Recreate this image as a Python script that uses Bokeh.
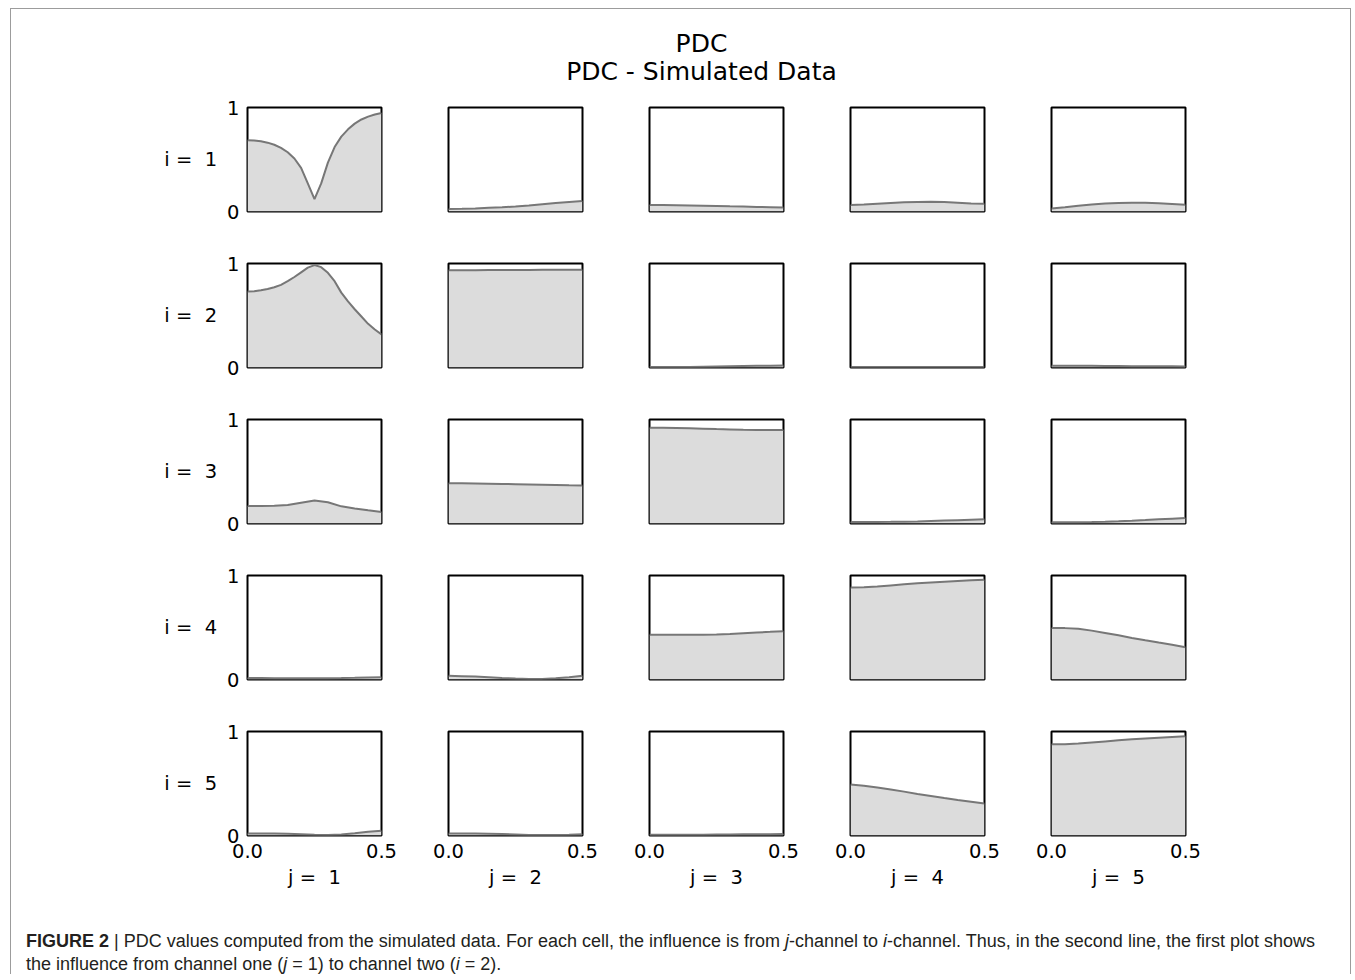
from bokeh.plotting import figure
from bokeh.layouts import column, row
from bokeh.models import Range1d, FixedTicker, Div
from bokeh.core.properties import value
from bokeh.embed import file_html
from bokeh.resources import INLINE

# ---------------- data ----------------
freq = [0.0, 0.05, 0.1, 0.15, 0.2, 0.25, 0.3, 0.35, 0.4, 0.45, 0.5]
freq_fine = [0.0, 0.025, 0.05, 0.075, 0.1, 0.125, 0.15, 0.175, 0.2, 0.225, 0.25,
             0.275, 0.3, 0.325, 0.35, 0.375, 0.4, 0.425, 0.45, 0.475, 0.5]

title_lines = ["PDC", "PDC - Simulated Data"]
row_labels = ["i = \u00a01", "i = \u00a02", "i = \u00a03", "i = \u00a04", "i = \u00a05"]
col_labels = ["j = \u00a01", "j = \u00a02", "j = \u00a03", "j = \u00a04", "j = \u00a05"]
y_ticks = [0, 1]
y_tick_labels = {0: "0", 1: "1"}
x_ticks = [0, 0.5]
x_tick_labels = {0: "0.0", 0.5: "0.5"}

# PDC from channel j (columns) to channel i (rows)
pdc_i1 = [
    [0.686, 0.683, 0.675, 0.662, 0.642, 0.612, 0.57, 0.51, 0.42, 0.27, 0.12,
     0.27, 0.47, 0.62, 0.72, 0.79, 0.845, 0.885, 0.912, 0.933, 0.948],
    [0.025, 0.027, 0.03, 0.035, 0.04, 0.048, 0.058, 0.07, 0.082, 0.092, 0.1],
    [0.062, 0.062, 0.06, 0.058, 0.056, 0.054, 0.05, 0.047, 0.044, 0.041, 0.038],
    [0.062, 0.068, 0.075, 0.082, 0.088, 0.092, 0.093, 0.091, 0.085, 0.078, 0.074],
    [0.03, 0.04, 0.055, 0.068, 0.077, 0.082, 0.084, 0.083, 0.079, 0.072, 0.064],
]
pdc_i2 = [
    [0.73, 0.733, 0.742, 0.755, 0.772, 0.795, 0.83, 0.87, 0.915, 0.96, 0.985,
     0.965, 0.91, 0.83, 0.72, 0.635, 0.56, 0.49, 0.42, 0.365, 0.318],
    [0.935, 0.936, 0.936, 0.937, 0.937, 0.938, 0.938, 0.939, 0.939, 0.94, 0.94],
    [0.005, 0.005, 0.005, 0.006, 0.008, 0.01, 0.012, 0.014, 0.016, 0.018, 0.02],
    [0.002, 0.002, 0.002, 0.002, 0.002, 0.002, 0.002, 0.002, 0.002, 0.002, 0.002],
    [0.018, 0.018, 0.017, 0.016, 0.015, 0.014, 0.013, 0.012, 0.012, 0.011, 0.01],
]
pdc_i3 = [
    [0.168, 0.168, 0.17, 0.178, 0.2, 0.222, 0.205, 0.165, 0.145, 0.127, 0.11],
    [0.387, 0.386, 0.384, 0.382, 0.38, 0.378, 0.376, 0.373, 0.37, 0.367, 0.365],
    [0.92, 0.92, 0.918, 0.915, 0.912, 0.908, 0.905, 0.902, 0.9, 0.899, 0.898],
    [0.015, 0.015, 0.015, 0.016, 0.018, 0.02, 0.024, 0.028, 0.032, 0.036, 0.04],
    [0.012, 0.012, 0.013, 0.015, 0.018, 0.022, 0.027, 0.033, 0.04, 0.046, 0.052],
]
pdc_i4 = [
    [0.015, 0.014, 0.013, 0.012, 0.012, 0.012, 0.013, 0.014, 0.016, 0.019, 0.022],
    [0.035, 0.032, 0.028, 0.022, 0.015, 0.009, 0.005, 0.006, 0.012, 0.022, 0.035],
    [0.43, 0.43, 0.43, 0.43, 0.431, 0.433, 0.438, 0.445, 0.452, 0.458, 0.465],
    [0.885, 0.888, 0.895, 0.905, 0.915, 0.925, 0.933, 0.94, 0.947, 0.954, 0.96],
    [0.495, 0.494, 0.487, 0.47, 0.448, 0.425, 0.4, 0.377, 0.355, 0.335, 0.31],
]
pdc_i5 = [
    [0.02, 0.02, 0.019, 0.017, 0.013, 0.008, 0.005, 0.01, 0.022, 0.035, 0.045],
    [0.02, 0.02, 0.019, 0.017, 0.014, 0.01, 0.006, 0.004, 0.005, 0.008, 0.012],
    [0.008, 0.008, 0.008, 0.008, 0.008, 0.009, 0.01, 0.011, 0.012, 0.013, 0.014],
    [0.49, 0.478, 0.462, 0.443, 0.422, 0.4, 0.38, 0.36, 0.342, 0.325, 0.307],
    [0.877, 0.878, 0.885, 0.895, 0.905, 0.915, 0.925, 0.933, 0.941, 0.948, 0.955],
]
pdc_rows = [pdc_i1, pdc_i2, pdc_i3, pdc_i4, pdc_i5]

# ---------------- style ----------------
FONT = "DejaVu Sans"
PANEL_W, PANEL_H = 134, 104
FIRST_LEFT, LEFT, RIGHT = 236, 47, 20
FIRST_TOP, TOP, BOTTOM, LAST_BOTTOM = 12, 26, 26, 62
FILL = "#dcdcdc"
LINE = "#777777"
CONTENT_W = 1341
HDR_H, CAP_H = 86, 78


def make_panel(i, j, vals):
    first_col = j == 0
    last_row = i == 4
    left = FIRST_LEFT if first_col else LEFT
    top = FIRST_TOP if i == 0 else TOP
    bottom = LAST_BOTTOM if last_row else BOTTOM
    p = figure(width=left + PANEL_W + RIGHT, height=top + PANEL_H + bottom,
               x_range=Range1d(0, 0.5), y_range=Range1d(0, 1),
               output_backend="svg", toolbar_location=None,
               x_axis_location="below" if last_row else None,
               y_axis_location="left" if first_col else None,
               min_border_left=left, min_border_right=RIGHT,
               min_border_top=top, min_border_bottom=bottom)
    p.grid.visible = False
    p.outline_line_color = "black"
    p.outline_line_width = 2
    p.outline_line_alpha = 1.0
    p.background_fill_color = "white"
    p.border_fill_color = "white"
    xs = freq_fine if len(vals) == len(freq_fine) else freq
    p.varea(x=xs, y1=[0] * len(xs), y2=vals, fill_color=FILL)
    p.line(x=xs, y=vals, line_color=LINE, line_width=2)
    axes = []
    if first_col:
        ax = p.yaxis[0]
        ax.ticker = FixedTicker(ticks=y_ticks)
        ax.major_label_overrides = y_tick_labels
        ax.axis_label = row_labels[i]
        ax.axis_label_orientation = "horizontal"
        ax.major_label_standoff = 8
        ax.axis_label_standoff = 7
        axes.append(ax)
    if last_row:
        ax = p.xaxis[0]
        ax.ticker = FixedTicker(ticks=x_ticks)
        ax.major_label_overrides = x_tick_labels
        ax.axis_label = col_labels[j]
        ax.major_label_standoff = 8
        ax.axis_label_standoff = 5
        axes.append(ax)
    for ax in axes:
        ax.axis_line_color = None
        ax.major_tick_line_color = None
        ax.minor_tick_line_color = None
        ax.major_tick_in = 0
        ax.major_tick_out = 0
        ax.major_label_text_font = FONT
        ax.major_label_text_font_size = "19.5px"
        ax.major_label_text_color = "black"
        ax.axis_label_text_font = FONT
        ax.axis_label_text_font_size = "19.5px"
        ax.axis_label_text_font_style = "normal"
        ax.axis_label_text_color = "black"
    return p


rows = []
for i, pdc_row in enumerate(pdc_rows):
    rows.append(row([make_panel(i, j, vals) for j, vals in enumerate(pdc_row)], spacing=0))

# header with the titles
hdr = figure(width=CONTENT_W, height=HDR_H, x_range=Range1d(0, CONTENT_W), y_range=Range1d(HDR_H, 0),
             output_backend="svg", toolbar_location=None,
             x_axis_location=None, y_axis_location=None, min_border=0)
hdr.grid.visible = False
hdr.outline_line_color = None
hdr.text(x=[691, 691], y=[34, 62], text=title_lines, text_font=value(FONT),
         text_font_size="25px", text_align="center", text_baseline="middle",
         text_color="black")

caption_html = (
    '<div style="font-family: \'Liberation Sans\', Arial, sans-serif; font-size: 18px; '
    'line-height: 23px; color: #231f20; white-space: nowrap; padding: 28px 0 0 10px;">'
    '<b>FIGURE 2</b> | PDC values computed from the simulated data. For each cell, the influence '
    'is from <i>j</i>-channel to <i>i</i>-channel. Thus, in the second line, the first plot shows<br>'
    'the influence from channel one (<i>j</i>&nbsp;=&nbsp;1) to channel two (<i>i</i>&nbsp;=&nbsp;2).'
    '</div>'
)
caption = Div(text=caption_html, width=CONTENT_W, height=CAP_H)

grid = column(rows, spacing=0)
total_h = HDR_H + FIRST_TOP + 5 * PANEL_H + 4 * TOP + 4 * BOTTOM + LAST_BOTTOM + CAP_H
root = column([hdr, grid, caption], spacing=0, width=CONTENT_W, height=total_h,
              sizing_mode="fixed",
              styles={"margin-top": "8px", "margin-left": "10px",
                      "width": f"{CONTENT_W}px",
                      "border-top": "1px solid #9c9c9c",
                      "border-left": "1px solid #9c9c9c",
                      "border-right": "1px solid #9c9c9c"})

open("out.html", "w").write(file_html(root, INLINE))
